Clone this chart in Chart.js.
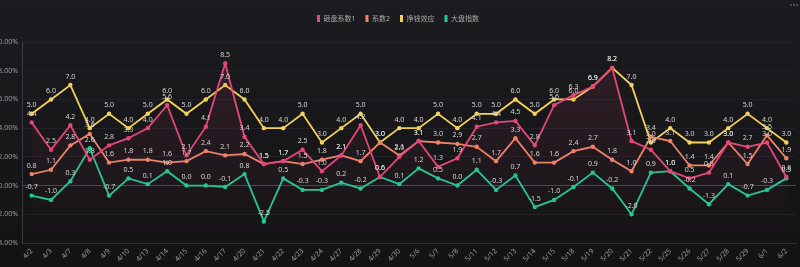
<!DOCTYPE html>
<html>
<head>
<meta charset="utf-8">
<script src="https://cdn.jsdelivr.net/npm/chart.js@4.4.1/dist/chart.umd.min.js"></script>
<style>
  html, body {
    margin: 0;
    padding: 0;
    background: linear-gradient(#1c1c20, #131316);
  }
  #wrap {
    width: 800px;
    height: 267px;
    position: relative;
  }
</style>
</head>
<body>
<div id="wrap"><canvas id="chart"></canvas></div>
<script>
const fontType = '"Noto Sans", "Noto Sans CJK SC", sans-serif';

/* dates on the x axis */
const dates = [
  "4/2", "4/3", "4/7", "4/8", "4/9", "4/10", "4/13", "4/14", "4/15", "4/16",
  "4/17", "4/20", "4/21", "4/22", "4/23", "4/24", "4/27", "4/28", "4/29", "4/30",
  "5/6", "5/7", "5/8", "5/11", "5/12", "5/13", "5/14", "5/15", "5/18", "5/19",
  "5/20", "5/21", "5/22", "5/25", "5/26", "5/27", "5/28", "5/29", "6/1", "6/2"
];

/* series values, in percent */
const zaPan1 = [
  4.4, 2.5, 4.2, 1.8, 2.8, 3.3, 4.0, 5.6, 2.1, 4.1,
  8.5, 3.4, 1.5, 1.7, 2.5, 1.0, 2.1, 4.2, 0.6, 2.0,
  3.1, 1.3, 1.9, 4.1, 4.4, 4.5, 2.8, 5.6, 6.3, 6.9,
  8.2, 3.1, 2.5, 1.0, 0.5, 0.9, 3.0, 2.7, 3.0, 0.6
];
const xiShu2 = [
  0.8, 1.1, 2.8, 3.6, 1.6, 1.8, 1.8, 1.6, 1.7, 2.4,
  2.1, 2.2, 1.5, 1.7, 1.5, 1.8, 2.1, 1.7, 3.0, 2.1,
  3.1, 3.0, 2.9, 2.7, 1.7, 3.3, 1.6, 1.6, 2.4, 2.7,
  1.8, 1.0, 3.4, 3.1, 1.4, 1.4, 3.0, 1.5, 3.5, 1.9
];
const zhengQian = [
  5.0, 6.0, 7.0, 4.0, 5.0, 4.0, 5.0, 6.0, 5.0, 6.0,
  7.0, 6.0, 4.0, 4.0, 5.0, 3.0, 4.0, 5.0, 3.0, 4.0,
  4.0, 5.0, 4.0, 5.0, 5.0, 6.0, 5.0, 6.0, 6.0, 6.9,
  8.2, 7.0, 3.0, 4.0, 3.0, 3.0, 4.0, 5.0, 4.0, 3.0
];
const daPan = [
  -0.7, -1.0, 0.3, 2.6, -0.7, 0.5, 0.1, 1.0, 0.0, 0.0,
  -0.1, 0.8, -2.5, 0.5, -0.3, -0.3, 0.2, -0.2, 0.6, 0.1,
  1.2, 0.5, 0.0, 1.1, -0.3, 0.7, -1.5, -1.0, -0.1, 0.9,
  -0.2, -2.0, 0.9, 1.0, -0.2, -1.3, 0.1, -0.7, -0.3, 0.5
];

const yMin = -4;
const yMax = 10;
const yStep = 2;

const pink = '#e6467a';
const orange = '#ee8467';
const yellow = '#f2d25a';
const teal = '#22c994';

function fadeFill(hex, alpha) {
  return (ctx) => {
    const area = ctx.chart.chartArea;
    if (!area) {
      return 'rgba(0,0,0,0)';
    }
    const r = parseInt(hex.slice(1, 3), 16);
    const g = parseInt(hex.slice(3, 5), 16);
    const b = parseInt(hex.slice(5, 7), 16);
    const grad = ctx.chart.ctx.createLinearGradient(0, area.top, 0, area.bottom);
    grad.addColorStop(0, 'rgba(' + r + ',' + g + ',' + b + ',' + alpha + ')');
    grad.addColorStop(1, 'rgba(' + r + ',' + g + ',' + b + ',0)');
    return grad;
  };
}

function makeSet(label, data, color, fill) {
  return {
    label: label,
    data: data,
    borderColor: color,
    backgroundColor: fill ? fadeFill(color, 0.12) : color,
    pointBackgroundColor: color,
    pointBorderColor: color,
    pointRadius: 2.2,
    pointBorderWidth: 0,
    borderWidth: 1.8,
    tension: 0,
    fill: fill ? 'start' : false
  };
}

/* draws the value above every point */
const valueLabels = {
  id: 'valueLabels',
  afterDatasetsDraw(chart) {
    const ctx = chart.ctx;
    ctx.save();
    ctx.font = '7px ' + fontType;
    ctx.fillStyle = '#d4d4d4';
    ctx.textAlign = 'center';
    ctx.textBaseline = 'bottom';
    chart.data.datasets.forEach((ds, i) => {
      const meta = chart.getDatasetMeta(i);
      if (meta.hidden) {
        return;
      }
      meta.data.forEach((pt, j) => {
        ctx.fillText(ds.data[j].toFixed(1), pt.x, pt.y - 5);
      });
    });
    ctx.restore();
  }
};

/* menu dots in the top right corner */
const menuDots = {
  id: 'menuDots',
  afterDraw(chart) {
    const ctx = chart.ctx;
    ctx.save();
    ctx.fillStyle = '#8a8a8a';
    [791, 794, 797].forEach((x) => {
      ctx.beginPath();
      ctx.arc(x, 5, 0.8, 0, Math.PI * 2);
      ctx.fill();
    });
    ctx.restore();
  }
};

/* legend needs more room under it */
const legendSpace = {
  id: 'legendSpace',
  beforeInit(chart) {
    const l = chart.legend;
    if (l) {
      const fit = l.fit;
      l.fit = function () {
        fit.bind(l)();
        this.height += 10;
      };
    }
  }
};

const chart = new Chart(document.getElementById('chart'), {
  type: 'line',
  data: {
    labels: dates,
    datasets: [
      makeSet('砸盘系数1', zaPan1, pink, true),
      makeSet('系数2', xiShu2, orange, false),
      makeSet('挣钱效应', zhengQian, yellow, false),
      makeSet('大盘指数', daPan, teal, false)
    ]
  },
  options: {
    responsive: true,
    maintainAspectRatio: false,
    animation: false,
    layout: {
      padding: { top: 5, right: 4, left: 0, bottom: 0 }
    },
    plugins: {
      legend: {
        display: true,
        position: 'top',
        align: 'center',
        labels: {
          boxWidth: 3,
          boxHeight: 7,
          padding: 10,
          color: '#a8a8a8',
          font: { family: fontType, size: 7 },
          generateLabels(chart) {
            return chart.data.datasets.map((ds, i) => ({
              text: ds.label,
              fillStyle: ds.borderColor,
              strokeStyle: ds.borderColor,
              lineWidth: 0,
              fontColor: '#a8a8a8',
              hidden: !chart.isDatasetVisible(i),
              datasetIndex: i
            }));
          }
        }
      },
      tooltip: { enabled: false }
    },
    scales: {
      x: {
        offset: true,
        grid: { display: false, drawTicks: false },
        border: { display: true, color: '#2e2e33' },
        ticks: {
          color: '#9a9a9a',
          font: { family: fontType, size: 7 },
          minRotation: 45,
          maxRotation: 45,
          autoSkip: false,
          padding: 4
        },
        afterFit(scale) {
          scale.height = 24;
        }
      },
      y: {
        min: yMin,
        max: yMax,
        ticks: {
          stepSize: yStep,
          color: '#9a9a9a',
          font: { family: fontType, size: 7 },
          padding: 4,
          callback: (v) => v.toFixed(2) + '%'
        },
        grid: {
          drawTicks: false,
          color: (c) => (c.tick && c.tick.value === 0 ? '#4a4a50' : '#222226'),
          lineWidth: 1
        },
        border: { display: true, color: '#3a3a40' },
        afterFit(scale) {
          scale.width = 22;
        }
      }
    }
  },
  plugins: [valueLabels, menuDots, legendSpace]
});
</script>
</body>
</html>
